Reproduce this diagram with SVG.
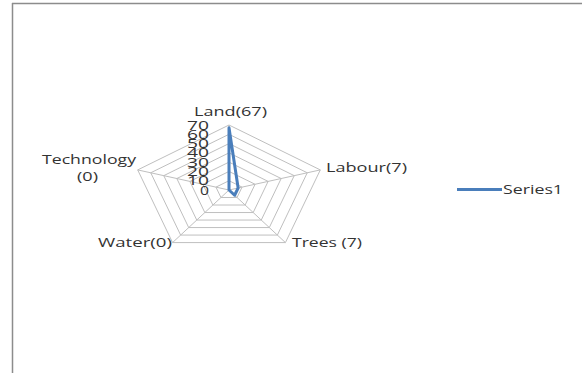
<svg xmlns="http://www.w3.org/2000/svg" width="582" height="373" viewBox="0 0 582 373">
<style>
.ring{fill:none;stroke:#bfbfbf;stroke-width:1}
.spoke{stroke:#bfbfbf;stroke-width:1}
.lbl{font-family:"Open Sans","Liberation Sans",Arial,sans-serif;font-size:13px;fill:#333}
.tick{font-family:"Open Sans","Liberation Sans",Arial,sans-serif;font-size:13px;fill:#333;text-anchor:end}
.series{fill:none;stroke:#4A7EBB;stroke-width:3;stroke-linejoin:round}
</style>
<rect width="582" height="373" fill="#fff"/>
<g id="frame">
<line x1="12" y1="3.5" x2="582" y2="3.5" stroke="#8c8c8c" stroke-width="1.5"/>
<line x1="12.5" y1="3" x2="12.5" y2="373" stroke="#8c8c8c" stroke-width="1.5"/>
</g>
<g id="grid">
<polygon class="ring" points="229,180.71 242.04,187.13 237.06,197.51 220.94,197.51 215.96,187.13"/>
<polygon class="ring" points="229,171.43 255.09,184.26 245.12,205.02 212.88,205.02 202.92,184.26"/>
<polygon class="ring" points="229,162.14 268.13,181.39 253.18,212.54 204.82,212.54 189.87,181.39"/>
<polygon class="ring" points="229,152.86 281.17,178.52 261.25,220.05 196.75,220.05 176.83,178.52"/>
<polygon class="ring" points="229,143.57 294.22,175.65 269.31,227.56 188.69,227.56 163.79,175.65"/>
<polygon class="ring" points="229,134.29 307.26,172.78 277.37,235.07 180.63,235.07 150.75,172.78"/>
<polygon class="ring" points="229,125 320.31,169.91 285.43,242.59 172.57,242.59 137.69,169.91"/>
</g>
<g id="connectors">
<line class="spoke" x1="229" y1="190" x2="229" y2="125"/>
<line class="spoke" x1="229" y1="190" x2="320.31" y2="169.91"/>
<line class="spoke" x1="229" y1="190" x2="285.43" y2="242.59"/>
<line class="spoke" x1="229" y1="190" x2="172.57" y2="242.59"/>
<line class="spoke" x1="229" y1="190" x2="137.69" y2="169.91"/>
</g>
<g id="ticks">
<text class="tick" x="209" y="129.5" textLength="22" lengthAdjust="spacingAndGlyphs">70</text>
<text class="tick" x="209" y="138.8" textLength="22" lengthAdjust="spacingAndGlyphs">60</text>
<text class="tick" x="209" y="148.1" textLength="22" lengthAdjust="spacingAndGlyphs">50</text>
<text class="tick" x="209" y="157.4" textLength="22" lengthAdjust="spacingAndGlyphs">40</text>
<text class="tick" x="209" y="166.6" textLength="22" lengthAdjust="spacingAndGlyphs">30</text>
<text class="tick" x="209" y="175.9" textLength="22" lengthAdjust="spacingAndGlyphs">20</text>
<text class="tick" x="209" y="185.2" textLength="22" lengthAdjust="spacingAndGlyphs">10</text>
<text class="tick" x="209" y="194.5" textLength="9" lengthAdjust="spacingAndGlyphs">0</text>
</g>
<g id="series1">
<polygon class="series" points="229,127.79 238.13,187.99 234.64,195.26 229,190 229,190"/>
</g>
<g id="node-land"><text class="lbl" x="194" y="116" textLength="73" lengthAdjust="spacingAndGlyphs">Land(67)</text></g>
<g id="node-labour"><text class="lbl" x="326" y="172" textLength="81" lengthAdjust="spacingAndGlyphs">Labour(7)</text></g>
<g id="node-trees"><text class="lbl" x="292" y="247" textLength="70" lengthAdjust="spacingAndGlyphs">Trees (7)</text></g>
<g id="node-water"><text class="lbl" x="98" y="247" textLength="74" lengthAdjust="spacingAndGlyphs">Water(0)</text></g>
<g id="node-technology">
<text class="lbl" x="42" y="164" textLength="94" lengthAdjust="spacingAndGlyphs">Technology</text>
<text class="lbl" x="77" y="181" textLength="21" lengthAdjust="spacingAndGlyphs">(0)</text>
</g>
<g id="legend">
<line x1="457" y1="189.5" x2="502" y2="189.5" stroke="#4A7EBB" stroke-width="3"/>
<text class="lbl" x="503" y="194" textLength="60" lengthAdjust="spacingAndGlyphs">Series1</text>
</g>
</svg>
